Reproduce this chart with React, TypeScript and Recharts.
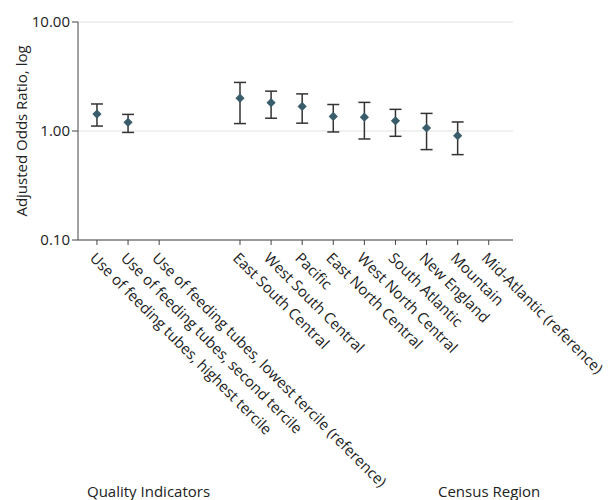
import React from "react"
import { ScatterChart, Scatter, XAxis, YAxis, CartesianGrid, ErrorBar } from "recharts"

// Quality indicator group
const qualityLabels = [
  "Use of feeding tubes, highest tercile",
  "Use of feeding tubes, second tercile",
  "Use of feeding tubes, lowest tercile (reference)",
]
const qualityOR = [1.43, 1.2, null]
const qualityLow = [1.11, 0.97, null]
const qualityHigh = [1.77, 1.42, null]

// Census region group
const regionLabels = [
  "East South Central",
  "West South Central",
  "Pacific",
  "East North Central",
  "West North Central",
  "South Atlantic",
  "New England",
  "Mountain",
  "Mid-Atlantic (reference)",
]
const regionOR = [2.0, 1.82, 1.68, 1.36, 1.34, 1.24, 1.065, 0.906, null]
const regionLow = [1.17, 1.31, 1.18, 0.98, 0.845, 0.894, 0.675, 0.607, null]
const regionHigh = [2.79, 2.32, 2.19, 1.75, 1.83, 1.58, 1.45, 1.21, null]

const yTicks = [0.1, 1, 10]

// the region group starts a bit more than two slots after the last quality indicator
const GROUP_GAP = 2.6

const buildRows = (labels, or, lo, hi, start) =>
  labels.map((label, i) => ({
    pos: start + i,
    label,
    or: or[i],
    err: or[i] == null ? null : [or[i] - lo[i], hi[i] - or[i]],
  }))

const rows = [
  ...buildRows(qualityLabels, qualityOR, qualityLow, qualityHigh, 0),
  ...buildRows(regionLabels, regionOR, regionLow, regionHigh, qualityLabels.length - 1 + GROUP_GAP),
]
const points = rows.filter((r) => r.or != null)
const labelAt = Object.fromEntries(rows.map((r) => [r.pos, r.label]))

const FONT = "'Open Sans', sans-serif"

function SlantTick({ x, y, payload }) {
  const tx = x - 8
  const ty = y + 12
  return (
    <text
      x={tx}
      y={ty}
      transform={`rotate(45, ${tx}, ${ty})`}
      textAnchor="start"
      fontSize={15}
      fontFamily={FONT}
      fill="#222"
    >
      {labelAt[payload.value]}
    </text>
  )
}

function Diamond({ cx, cy }) {
  const r = 4.6
  return (
    <polygon
      points={`${cx},${cy - r} ${cx + r},${cy} ${cx},${cy + r} ${cx - r},${cy}`}
      fill="#3a5d6b"
    />
  )
}

export default function App() {
  return (
    <div style={{ position: "absolute", left: 0, top: 0, width: 609, height: 500, background: "#fff" }}>
      <ScatterChart width={609} height={500} margin={{ top: 22, right: 96, bottom: 240, left: 0 }}>
        <CartesianGrid vertical={false} stroke="#e2e2e2" />
        <XAxis
          type="number"
          dataKey="pos"
          domain={[-0.61, 13.38]}
          ticks={rows.map((r) => r.pos)}
          interval={0}
          tick={<SlantTick />}
          tickSize={5}
          axisLine={{ stroke: "#444" }}
          tickLine={{ stroke: "#444" }}
          height={20}
          allowDataOverflow
        />
        <YAxis
          type="number"
          dataKey="or"
          scale="log"
          domain={[0.1, 10]}
          ticks={yTicks}
          tickFormatter={(v) => v.toFixed(2)}
          width={78}
          tickSize={6}
          axisLine={{ stroke: "#444" }}
          tickLine={{ stroke: "#444" }}
          tick={{ fontSize: 15, fill: "#222", fontFamily: FONT }}
          allowDataOverflow
        />
        <Scatter data={points} shape={<Diamond />} isAnimationActive={false}>
          <ErrorBar dataKey="err" direction="y" width={6} stroke="#333" strokeWidth={1.5} />
        </Scatter>
      </ScatterChart>
      <div
        style={{
          position: "absolute",
          left: 21,
          top: 131,
          transform: "translate(-50%, -50%) rotate(-90deg)",
          whiteSpace: "nowrap",
          fontFamily: FONT,
          fontSize: 15,
          color: "#222",
        }}
      >
        Adjusted Odds Ratio, log
      </div>
      <div style={{ position: "absolute", left: 87, top: 481, fontFamily: FONT, fontSize: 15, color: "#222" }}>
        Quality Indicators
      </div>
      <div style={{ position: "absolute", left: 438, top: 481, fontFamily: FONT, fontSize: 15, color: "#222" }}>
        Census Region
      </div>
    </div>
  )
}
